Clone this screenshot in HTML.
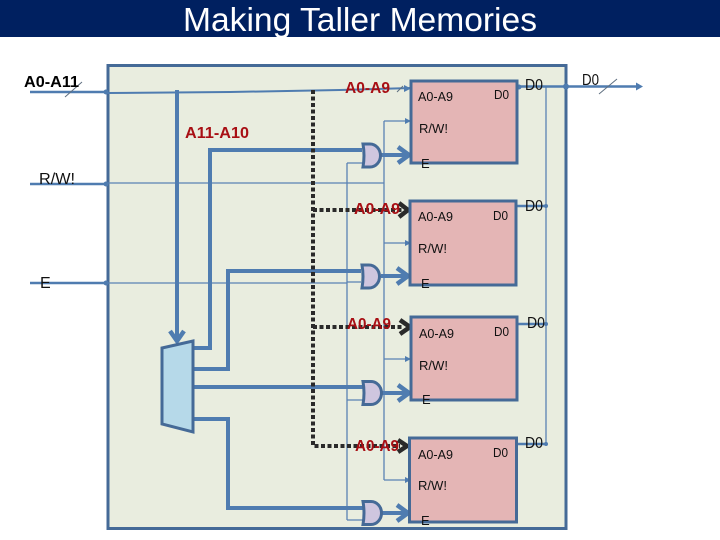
<!DOCTYPE html>
<html><head><meta charset="utf-8"><style>
html,body{margin:0;padding:0;background:#fff;width:720px;height:540px;overflow:hidden}
svg{display:block;font-family:"Liberation Sans",sans-serif}
</style></head><body>
<svg width="720" height="540" viewBox="0 0 720 540" xmlns="http://www.w3.org/2000/svg">
<rect x="0" y="0" width="720" height="37" fill="#002060"/>
<text x="183" y="31" font-size="33" fill="#fff" textLength="354" lengthAdjust="spacingAndGlyphs">Making Taller Memories</text>

<rect x="108" y="65.500" width="458" height="463" fill="#e9eddf" stroke="#456a97" stroke-width="3"/>

<!-- thin lines -->
<g fill="none" stroke="#5a82b4" stroke-width="1.300">
<path d="M108 183H384M108 283H347"/>
<path d="M384 121V480M384 121H409M384 243H409M384 359H409M384 480H409"/>
<path d="M347 163V520M347 163H362M347 282H361M347 400H363M347 520H363"/>
<path d="M546 87V444"/>
</g>
<path d="M30 92H108M30 184H108M30 283H108" stroke="#4f7cb0" stroke-width="2.500" fill="none"/>
<path d="M108 93L230 92L340 90L411 88" stroke="#4f7cb0" stroke-width="2" fill="none"/>
<path d="M517 86.500H640M517 206H546M517 324H546M517 444H546" stroke="#4f7cb0" stroke-width="2.500" fill="none"/>
<g fill="#4f7cb0">
<circle cx="106" cy="92" r="2.500"/><circle cx="106" cy="184" r="2.500"/><circle cx="106" cy="283" r="2.500"/>
<circle cx="566" cy="86.500" r="3"/><circle cx="519" cy="87" r="2.500"/><circle cx="546" cy="206" r="2"/><circle cx="546" cy="324" r="2"/><circle cx="546" cy="444" r="2"/>
<path d="M636 82.500L643 86.500L636 90.500Z"/>
<path d="M404 85L411 88.500L404 92Z"/>
<path d="M405 118L411 121L405 124ZM405 240L411 243L405 246ZM405 356L411 359L405 362ZM405 477L411 480L405 483Z"/>
</g>

<!-- thick blue lines -->
<g fill="none" stroke="#4f7cb0" stroke-width="4">
<path d="M177 90V338"/>
<path d="M170 331L177 341L184 331" stroke-width="4.500"/>
<path d="M193 348H210V150H362"/>
<path d="M193 369H228V271H361" />
<path d="M193 387H363"/>
<path d="M193 419H228V508H363"/>
<path d="M381 155H407M381 276H406M382 393H407M382 513H406"/>
<path d="M398 147L409 155L398 163M397 268L408 276L397 284M398 385L409 393L398 401M397 505L408 513L397 521" stroke-width="4.500"/>
</g>

<!-- dotted bus -->
<g fill="none" stroke="#2a2a2a" stroke-width="4" stroke-dasharray="4 2.500">
<path d="M313 90V446H400"/>
<path d="M313 210H402M313 327H402"/>
</g>
<g fill="none" stroke="#2a2a2a" stroke-width="4.500">
<path d="M399 203L408 210L399 217M400 320L410 327L400 334M398 440L407 446L398 452"/>
</g>

<!-- mux -->
<path d="M162 348L193 341V432L162 424Z" fill="#b6d9e9" stroke="#456a97" stroke-width="3"/>

<!-- gates -->
<g fill="#cfc6df" stroke="#456a97" stroke-width="3">
<path d="M363 144H370A10.500 11.500 0 0 1 370 167H363Q365 155.500 363 144Z"/>
<path d="M362 265H369A10.500 11.500 0 0 1 369 288H362Q364 276.500 362 265Z"/>
<path d="M363 381.500H371A10.500 11.500 0 0 1 371 404.500H363Q365 393 363 381.500Z"/>
<path d="M363 501.500H371A10.500 11.500 0 0 1 371 524.500H363Q365 513 363 501.500Z"/>
</g>

<!-- memory blocks -->
<g fill="#e4b5b5" stroke="#456a97" stroke-width="3">
<rect x="411" y="81" width="106" height="82"/>
<rect x="410" y="201" width="106" height="84"/>
<rect x="411" y="317" width="106" height="83"/>
<rect x="409.500" y="438" width="107" height="84"/>
</g>

<!-- slashes -->
<g stroke="#5f6f80" stroke-width="1" fill="none">
<path d="M65 97L82 82M599 94L617 79M397 92L403 86"/>
</g>

<!-- external labels -->
<g fill="#111" font-size="16">
<text x="24" y="87" font-weight="bold" fill="#000" font-size="15.500" textLength="55" lengthAdjust="spacingAndGlyphs">A0-A11</text>
<text x="39" y="184" textLength="36" lengthAdjust="spacingAndGlyphs">R/W!</text>
<text x="40" y="288">E</text>
<text x="582" y="85" textLength="17" lengthAdjust="spacingAndGlyphs">D0</text>
<text x="525" y="90" textLength="18" lengthAdjust="spacingAndGlyphs">D0</text>
<text x="525" y="211" textLength="18" lengthAdjust="spacingAndGlyphs">D0</text>
<text x="527" y="328" textLength="18" lengthAdjust="spacingAndGlyphs">D0</text>
<text x="525" y="448" textLength="18" lengthAdjust="spacingAndGlyphs">D0</text>
</g>

<!-- red labels -->
<g fill="#a80f14" font-weight="bold" font-size="16">
<text x="345" y="93" textLength="45" lengthAdjust="spacingAndGlyphs">A0-A9</text>
<text x="185" y="138" textLength="64" lengthAdjust="spacingAndGlyphs">A11-A10</text>
<text x="354" y="214" textLength="46" lengthAdjust="spacingAndGlyphs">A0-A9</text>
<text x="347" y="329" textLength="44" lengthAdjust="spacingAndGlyphs">A0-A9</text>
<text x="355" y="451" textLength="44" lengthAdjust="spacingAndGlyphs">A0-A9</text>
</g>

<!-- block labels -->
<g fill="#111" font-size="13">
<text x="418" y="101" textLength="35" lengthAdjust="spacingAndGlyphs">A0-A9</text>
<text x="494" y="99" textLength="15" lengthAdjust="spacingAndGlyphs">D0</text>
<text x="419" y="133" textLength="29" lengthAdjust="spacingAndGlyphs">R/W!</text>
<text x="421" y="168">E</text>
<text x="418" y="221" textLength="35" lengthAdjust="spacingAndGlyphs">A0-A9</text>
<text x="493" y="220" textLength="15" lengthAdjust="spacingAndGlyphs">D0</text>
<text x="418" y="253" textLength="29" lengthAdjust="spacingAndGlyphs">R/W!</text>
<text x="421" y="288">E</text>
<text x="419" y="338" textLength="35" lengthAdjust="spacingAndGlyphs">A0-A9</text>
<text x="494" y="336" textLength="15" lengthAdjust="spacingAndGlyphs">D0</text>
<text x="419" y="370" textLength="29" lengthAdjust="spacingAndGlyphs">R/W!</text>
<text x="422" y="404">E</text>
<text x="418" y="459" textLength="35" lengthAdjust="spacingAndGlyphs">A0-A9</text>
<text x="493" y="457" textLength="15" lengthAdjust="spacingAndGlyphs">D0</text>
<text x="418" y="490" textLength="29" lengthAdjust="spacingAndGlyphs">R/W!</text>
<text x="421" y="525">E</text>
</g>
</svg>
</body></html>
